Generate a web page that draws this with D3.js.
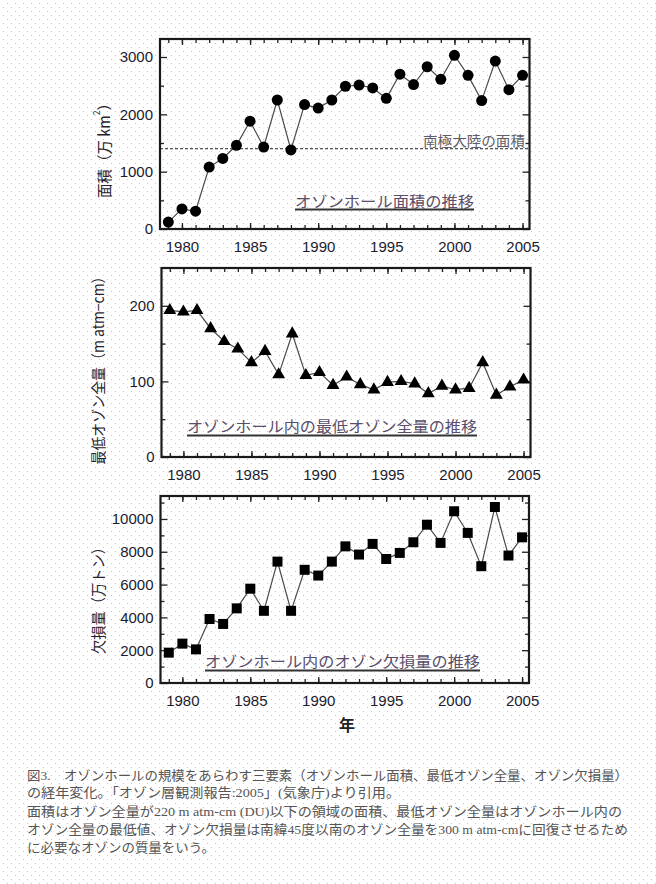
<!DOCTYPE html>
<html><head><meta charset="utf-8">
<script src="https://cdn.jsdelivr.net/npm/d3@7"></script>
<style>
html,body{margin:0;padding:0;background:#fff;}
svg{display:block;}
</style>
</head><body>
<script>
const years = [1979,1980,1981,1982,1983,1984,1985,1986,1987,1988,1989,1990,1991,1992,1993,1994,1995,1996,1997,1998,1999,2000,2001,2002,2003,2004,2005];
const areaValues = [120,350,310,1080,1230,1460,1880,1430,2250,1380,2170,2110,2250,2490,2510,2460,2280,2700,2520,2830,2610,3030,2680,2240,2930,2430,2680];
const minOzoneValues = [194,192,194,170,153,143,125,140,109,163,108,112,95,106,96,89,99,100,97,84,94,89,91,125,82,93,102];
const lossValues = [1850,2400,2050,3900,3600,4550,5750,4400,7400,4400,6900,6550,7400,8330,7830,8480,7560,7930,8580,9650,8540,10470,9150,7120,10730,7770,8880];
const xTickLabels = [1980,1985,1990,1995,2000,2005];
const areaTicks = [0,1000,2000,3000];
const areaMinorTicks = [500,1500,2500];
const minOzoneTicks = [0,100,200];
const minOzoneMinorTicks = [50,150];
const lossTicks = [0,2000,4000,6000,8000,10000];
const lossMinorTicks = [1000,3000,5000,7000,9000,11000];
const antarcticArea = 1400;

const W = 656, H = 884;
const svg = d3.select("body").append("svg").attr("width", W).attr("height", H);
const defs = svg.append("defs");
const pat = defs.append("pattern").attr("id","dots").attr("width",8).attr("height",8).attr("patternUnits","userSpaceOnUse");
pat.append("rect").attr("x",7).attr("y",3).attr("width",1).attr("height",1).attr("fill","#c6c6c6");
pat.append("rect").attr("x",3).attr("y",7).attr("width",1).attr("height",1).attr("fill","#c6c6c6");
svg.append("rect").attr("width",W).attr("height",H).attr("fill","#fff");
svg.append("rect").attr("width",W).attr("height",H).attr("fill","url(#dots)");

const SANS = "'Liberation Sans', Arial, sans-serif";
const JP = "'Noto Sans CJK JP', sans-serif";
const xDomain = [1978.39, 2005.51];

function panel(cfg) {
  const x = d3.scaleLinear().domain(xDomain).range([cfg.left, cfg.right]);
  const y = d3.scaleLinear().domain(cfg.yDomain).range([cfg.bottom, cfg.top]);
  const g = svg.append("g");

  // minor y ticks left & right
  g.append("g").attr("transform",`translate(${cfg.left},0)`)
    .call(d3.axisLeft(y).tickValues(cfg.minor).tickSize(-4).tickFormat(""));
  g.append("g").attr("transform",`translate(${cfg.right},0)`)
    .call(d3.axisRight(y).tickValues(cfg.minor).tickSize(-4).tickFormat(""));
  // major y ticks
  g.append("g").attr("transform",`translate(${cfg.left},0)`)
    .call(d3.axisLeft(y).tickValues(cfg.major).tickSize(-7).tickPadding(7).tickFormat(d3.format("d")))
    .call(a => a.selectAll("text").attr("font-family",SANS).attr("font-size",15).attr("fill","#1c1c2e"));
  g.append("g").attr("transform",`translate(${cfg.right},0)`)
    .call(d3.axisRight(y).tickValues(cfg.major).tickSize(-7).tickFormat(""));
  // x ticks top & bottom
  g.append("g").attr("transform",`translate(0,${cfg.top})`)
    .call(d3.axisTop(x).tickValues(years).tickSize(-4).tickFormat(""));
  g.append("g").attr("transform",`translate(0,${cfg.top})`)
    .call(d3.axisTop(x).tickValues(xTickLabels).tickSize(-6).tickFormat(""));
  g.append("g").attr("transform",`translate(0,${cfg.bottom})`)
    .call(d3.axisBottom(x).tickValues(years).tickSize(-4).tickFormat(""));
  g.append("g").attr("transform",`translate(0,${cfg.bottom})`)
    .call(d3.axisBottom(x).tickValues(xTickLabels).tickSize(-6).tickPadding(12).tickFormat(d3.format("d")))
    .call(a => a.selectAll("text").attr("font-family",SANS).attr("font-size",15).attr("fill","#1c1c2e"));
  g.selectAll(".domain").remove();
  g.selectAll(".tick line").attr("stroke","#222").attr("stroke-width",1.3);

  // frame
  g.append("rect").attr("x",cfg.left).attr("y",cfg.top)
    .attr("width",cfg.right-cfg.left).attr("height",cfg.bottom-cfg.top)
    .attr("fill","none").attr("stroke","#1a1a1a").attr("stroke-width",2.2);

  if (cfg.extra) cfg.extra(g, x, y);

  // line
  const line = d3.line().x((d,i)=>x(years[i])).y(d=>y(d));
  g.append("path").datum(cfg.values).attr("d",line)
    .attr("fill","none").attr("stroke","#4a4a4a").attr("stroke-width",1.2);
  // markers
  g.selectAll(".m").data(cfg.values).enter().append("path")
    .attr("transform",(d,i)=>`translate(${x(years[i])},${y(d)})`)
    .attr("d", d3.symbol().type(cfg.symbol).size(cfg.symSize)())
    .attr("fill","#000");

  // annotation
  g.append("text").attr("x",cfg.ann.x).attr("y",cfg.ann.y)
    .attr("font-family",JP).attr("font-size",15).attr("fill","#5a4e6a")
    .attr("textLength",cfg.ann.w).attr("lengthAdjust","spacingAndGlyphs")
    .text(cfg.ann.text);
  g.append("line").attr("x1",cfg.ann.x).attr("x2",cfg.ann.x+cfg.ann.w)
    .attr("y1",cfg.ann.uy).attr("y2",cfg.ann.uy)
    .attr("stroke","#333").attr("stroke-width",1.8);

  // y label
  g.append("text").attr("transform",`translate(${cfg.ylab.x},${cfg.ylab.y}) rotate(-90)`)
    .attr("text-anchor","middle").attr("dominant-baseline","central")
    .attr("font-family",JP).attr("font-size",cfg.ylab.size).attr("fill","#2a1e2e")
    .attr("textLength",cfg.ylab.len).attr("lengthAdjust","spacingAndGlyphs")
    .html(cfg.ylab.html);
}

panel({
  left:160, right:529.5, top:39, bottom:229,
  yDomain:[0,3314], major:areaTicks, minor:areaMinorTicks,
  values:areaValues, symbol:d3.symbolCircle, symSize:95,
  ann:{x:295, y:207, w:179, uy:209.5, text:"オゾンホール面積の推移"},
  ylab:{x:103, y:147, size:15, len:102, html:'面積（万 km<tspan baseline-shift="super" font-size="9">2</tspan>）'},
  extra:(g,x,y)=>{
    g.append("line").attr("x1",x.range()[0]).attr("x2",x.range()[1])
      .attr("y1",y(antarcticArea)).attr("y2",y(antarcticArea))
      .attr("stroke","#222").attr("stroke-width",1).attr("stroke-dasharray","3,2");
    g.append("text").attr("x",423).attr("y",146)
      .attr("font-family",JP).attr("font-size",14).attr("fill","#5e5e68")
      .attr("textLength",102).attr("lengthAdjust","spacingAndGlyphs")
      .text("南極大陸の面積");
  }
});

panel({
  left:161.5, right:530.5, top:268, bottom:457,
  yDomain:[0,250], major:minOzoneTicks, minor:minOzoneMinorTicks,
  values:minOzoneValues, symbol:d3.symbolTriangle, symSize:72,
  ann:{x:187, y:432, w:290, uy:435.5, text:"オゾンホール内の最低オゾン全量の推移"},
  ylab:{x:97, y:367, size:15, len:195, html:'最低オゾン全量（m atm−cm）'}
});

panel({
  left:160.5, right:529, top:496, bottom:683,
  yDomain:[0,11400], major:lossTicks, minor:lossMinorTicks,
  values:lossValues, symbol:d3.symbolSquare, symSize:100,
  ann:{x:205, y:667, w:275, uy:670.5, text:"オゾンホール内のオゾン欠損量の推移"},
  ylab:{x:97, y:597, size:15, len:114, html:'欠損量（万トン）'}
});

svg.append("text").attr("x",347).attr("y",731).attr("text-anchor","middle")
  .attr("font-family",JP).attr("font-size",16).attr("font-weight","bold").attr("fill","#222")
  .text("年");

// caption
const captionLines = [
  {t:"図3.　オゾンホールの規模をあらわす三要素（オゾンホール面積、最低オゾン全量、オゾン欠損量）", y:780, w:601},
  {t:"の経年変化。「オゾン層観測報告:2005」(気象庁)より引用。", y:797, w:373},
  {t:"面積はオゾン全量が220 m atm-cm (DU)以下の領域の面積、最低オゾン全量はオゾンホール内の", y:816, w:595},
  {t:"オゾン全量の最低値、オゾン欠損量は南緯45度以南のオゾン全量を300 m atm-cmに回復させるため", y:834, w:601},
  {t:"に必要なオゾンの質量をいう。", y:852, w:188}
];
svg.append("g").selectAll("text").data(captionLines).enter().append("text")
  .attr("x",27).attr("y",d=>d.y)
  .attr("font-family","'Liberation Serif', 'Noto Sans CJK JP', serif")
  .attr("font-size",13).attr("fill","#555")
  .attr("textLength",d=>d.w).attr("lengthAdjust","spacingAndGlyphs")
  .text(d=>d.t);
</script>
</body></html>
